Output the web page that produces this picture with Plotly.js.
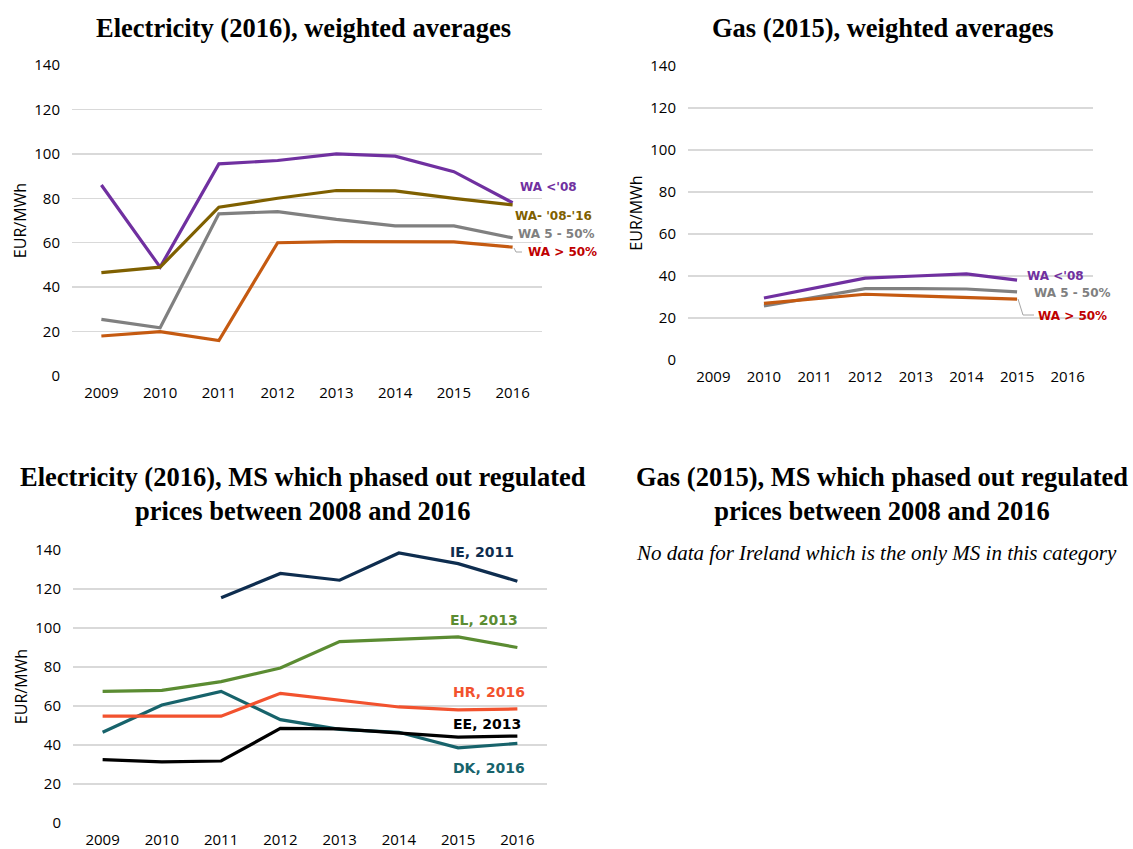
<!DOCTYPE html>
<html>
<head>
<meta charset="utf-8">
<script src="https://cdn.plot.ly/plotly-3.0.1.min.js"></script>
<style>
  html, body { margin: 0; padding: 0; background: #fff; }
  #chart { width: 1133px; height: 849px; }
</style>
</head>
<body>
<div id="chart"></div>
<script>
// categories
const years = ["2009", "2010", "2011", "2012", "2013", "2014", "2015", "2016"];

// Electricity (2016), weighted averages
const elec_wa_pre08 = [86, 49, 95.5, 97, 100, 99, 92, 78];
const elec_wa_0816 = [46.5, 49, 76, 80, 83.5, 83.3, 80, 77];
const elec_wa_5to50 = [25.5, 21.7, 73, 74, 70.5, 67.6, 67.6, 62.2];
const elec_wa_over50 = [18, 20, 16, 60, 60.5, 60.4, 60.4, 58];

// Gas (2015), weighted averages
const gas_wa_pre08 = [null, 29.5, 34.3, 39, 40, 41, 38, null];
const gas_wa_5to50 = [null, 25.7, 30, 34, 34, 33.8, 32.4, null];
const gas_wa_over50 = [null, 27, 29, 31.3, 30.5, 29.7, 29, null];

// Electricity (2016), MS which phased out regulated prices
const ms_ie = [null, null, 115.5, 128, 124.5, 138.5, 133, 124];
const ms_el = [67.5, 68, 72.5, 79.5, 93, 94.4, 95.4, 90];
const ms_hr = [54.8, 55, 54.8, 66.5, 63, 59.5, 58, 58.5];
const ms_dk = [46.5, 60.5, 67.5, 53, 48, 46.5, 38.5, 40.8];
const ms_ee = [32.5, 31.3, 31.8, 48.5, 48.3, 46.3, 44, 44.6];

const W = 1133, H = 849;
const px = x => x / W;
const py = y => 1 - y / H;

const COLORS = {
  purple: "#7030A0",
  olive: "#7F6000",
  gray: "#808080",
  brown: "#C55A11",
  red: "#C00000",
  navy: "#0E2D4F",
  green: "#5B8C32",
  orange: "#F2522E",
  teal: "#17636B",
  black: "#000000",
};

const line = (y, color, xaxis, yaxis) => ({
  x: years,
  y: y,
  type: "scatter",
  mode: "lines",
  line: { color: color, width: 3.2 },
  connectgaps: false,
  xaxis: xaxis,
  yaxis: yaxis,
  hoverinfo: "skip",
  showlegend: false,
});

const data = [
  line(elec_wa_pre08, COLORS.purple, "x", "y"),
  line(elec_wa_0816, COLORS.olive, "x", "y"),
  line(elec_wa_5to50, COLORS.gray, "x", "y"),
  line(elec_wa_over50, COLORS.brown, "x", "y"),

  line(gas_wa_5to50, COLORS.gray, "x2", "y2"),
  line(gas_wa_over50, COLORS.brown, "x2", "y2"),
  line(gas_wa_pre08, COLORS.purple, "x2", "y2"),

  line(ms_ie, COLORS.navy, "x3", "y3"),
  line(ms_el, COLORS.green, "x3", "y3"),
  line(ms_dk, COLORS.teal, "x3", "y3"),
  line(ms_hr, COLORS.orange, "x3", "y3"),
  line(ms_ee, COLORS.black, "x3", "y3"),
];

const tickFont = { family: "Open Sans, DejaVu Sans, sans-serif", size: 15, color: "#000" };

const xaxisBase = {
  type: "category",
  range: [-0.5, 7.5],
  showgrid: false,
  zeroline: false,
  showline: false,
  ticks: "",
  tickfont: tickFont,
  fixedrange: true,
};

const yaxisBase = {
  range: [0, 140],
  dtick: 20,
  showgrid: true,
  gridcolor: "#D9D9D9",
  gridwidth: 1.5,
  zeroline: false,
  showline: false,
  ticks: "",
  tickfont: tickFont,
  ticklabelstandoff: 11,
  fixedrange: true,
  title: { text: "EUR/MWh", font: { family: "Open Sans, DejaVu Sans, sans-serif", size: 16, color: "#000" }, standoff: 3 },
};

const titleFont = { family: "Liberation Serif, Times New Roman, serif", size: 26.5, color: "#000", weight: "bold" };
const labelFont = (color, size) => ({ family: "DejaVu Sans, sans-serif", size: size || 12, color: color, weight: "bold" });

const title = (text, x, y) => ({
  text: text, xref: "paper", yref: "paper", x: px(x), y: py(y),
  xanchor: "center", yanchor: "middle", showarrow: false, font: titleFont,
});

const label = (text, x, y, color, size) => ({
  text: text, xref: "paper", yref: "paper", x: px(x), y: py(y),
  xanchor: "left", yanchor: "middle", showarrow: false, font: labelFont(color, size),
});

const annotations = [
  title("Electricity (2016), weighted averages", 303, 28),
  title("Gas (2015), weighted averages", 883, 28),
  title("Electricity (2016), MS which phased out regulated<br>prices between 2008 and 2016", 303, 494),
  title("Gas (2015), MS which phased out regulated<br>prices between 2008 and 2016", 882, 494),
  {
    text: "No data for Ireland which is the only MS in this category",
    xref: "paper", yref: "paper", x: px(876), y: py(553),
    xanchor: "center", yanchor: "middle", showarrow: false,
    font: { family: "Liberation Serif, Times New Roman, serif", size: 21, color: "#000", style: "italic" },
  },

  label("WA &lt;'08", 518, 187, COLORS.purple),
  label("WA- '08-'16", 513, 216, COLORS.olive),
  label("WA 5 - 50%", 516, 234, COLORS.gray),
  label("WA &gt; 50%", 526, 252, COLORS.red),

  label("WA &lt;'08", 1025, 276, COLORS.purple),
  label("WA 5 - 50%", 1032, 293, COLORS.gray),
  label("WA &gt; 50%", 1036, 316, COLORS.red),

  label("IE, 2011", 448, 552, COLORS.navy, 14),
  label("EL, 2013", 448, 620, COLORS.green, 14),
  label("HR, 2016", 451, 692, COLORS.orange, 14),
  label("EE, 2013", 451, 724, COLORS.black, 14),
  label("DK, 2016", 451, 768, COLORS.teal, 14),
];

// small leader lines from line ends to the "WA > 50%" labels
const leader = path => ({
  type: "path", xref: "paper", yref: "paper", path: path,
  line: { color: "#A6A6A6", width: 1 },
});
const seg = pts => "M " + pts.map(p => px(p[0]) + "," + py(p[1])).join(" L ");

const shapes = [
  leader(seg([[514, 248], [516, 252], [522, 252]])),
  leader(seg([[1018, 299], [1023, 315], [1034, 315]])),
];

const layout = {
  width: W,
  height: H,
  margin: { l: 0, r: 0, t: 0, b: 0 },
  paper_bgcolor: "#fff",
  plot_bgcolor: "#fff",
  showlegend: false,
  xaxis: Object.assign({}, xaxisBase, { domain: [px(72), px(542)], anchor: "y", ticklabelstandoff: 6 }),
  yaxis: Object.assign({}, yaxisBase, { domain: [py(376), py(65)], anchor: "x" }),
  xaxis2: Object.assign({}, xaxisBase, { domain: [px(688), px(1093)], anchor: "y2", ticklabelstandoff: 6 }),
  yaxis2: Object.assign({}, yaxisBase, { domain: [py(360), py(66)], anchor: "x2" }),
  xaxis3: Object.assign({}, xaxisBase, { domain: [px(73), px(547)], anchor: "y3", ticklabelstandoff: 6 }),
  yaxis3: Object.assign({}, yaxisBase, { domain: [py(823), py(550)], anchor: "x3" }),
  annotations: annotations,
  shapes: shapes,
};

Plotly.newPlot("chart", data, layout, { displayModeBar: false, staticPlot: true });
</script>
</body>
</html>
